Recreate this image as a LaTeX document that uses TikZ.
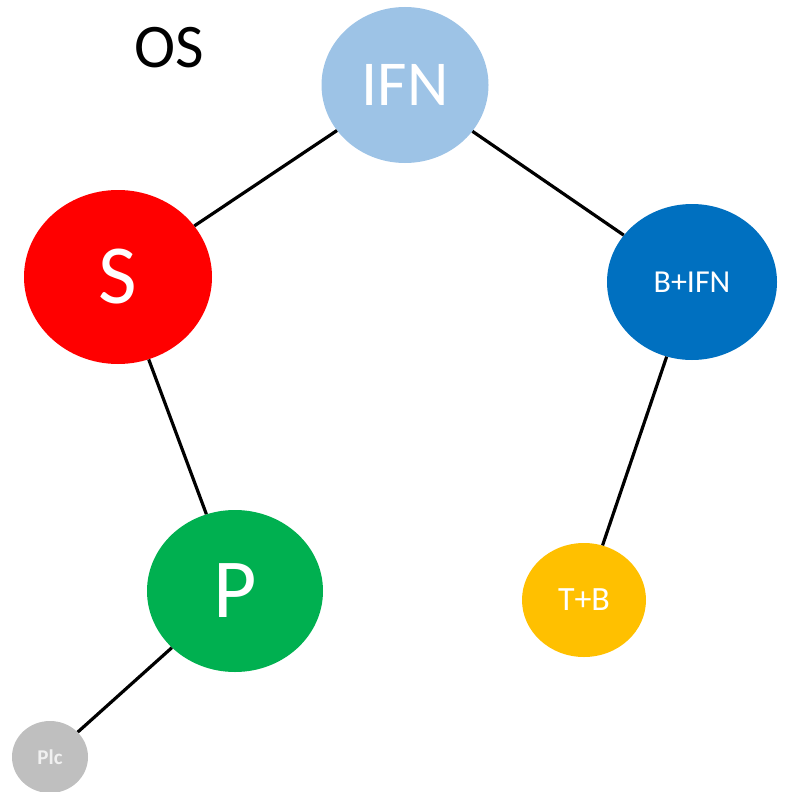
\documentclass[tikz,border=0pt]{standalone}
\usepackage{fontspec}
\setmainfont{Carlito}
\usetikzlibrary{shapes.geometric}
\definecolor{cIFN}{HTML}{9DC3E6}
\definecolor{cS}{HTML}{FF0000}
\definecolor{cBIFN}{HTML}{0070C0}
\definecolor{cP}{HTML}{00B050}
\definecolor{cTB}{HTML}{FFC000}
\definecolor{cPlc}{HTML}{BFBFBF}
\tikzset{
  blob/.style={ellipse, inner sep=0pt, text=white},
  link/.style={line width=3.2pt, black}
}
\begin{document}
\begin{tikzpicture}[x=1pt, y=-1pt]
  \useasboundingbox (0,0) rectangle (784,792);
  % network nodes
  \node[blob, fill=cIFN, minimum width=167pt, minimum height=156pt, font=\fontsize{64}{64}\selectfont] (ifn) at (405,85) {IFN};
  \node[blob, fill=cS, minimum width=188pt, minimum height=174pt, font=\fontsize{84}{84}\selectfont] (s) at (118,277) {S};
  \node[blob, fill=cBIFN, minimum width=170pt, minimum height=156pt, font=\fontsize{32}{32}\selectfont] (bifn) at (692,282) {B+IFN};
  \node[blob, fill=cP, minimum width=176pt, minimum height=162pt, font=\fontsize{84}{84}\selectfont] (p) at (235,591) {P};
  \node[blob, fill=cTB, minimum width=124pt, minimum height=114pt, font=\fontsize{34}{34}\selectfont] (tb) at (584,600) {T+B};
  \node[blob, fill=cPlc, minimum width=76pt, minimum height=72pt, text=white!94!black, font=\bfseries\fontsize{21}{21}\selectfont] (plc) at (50,757) {Plc};
  % title
  \node[font=\fontsize{62}{62}\selectfont, inner sep=0pt] (os) at (169,48) {OS};
  % connectors
  \draw[link] (ifn) -- (s);
  \draw[link] (ifn) -- (bifn);
  \draw[link] (s) -- (p);
  \draw[link] (bifn) -- (tb);
  \draw[link] (p) -- (plc);
\end{tikzpicture}
\end{document}
